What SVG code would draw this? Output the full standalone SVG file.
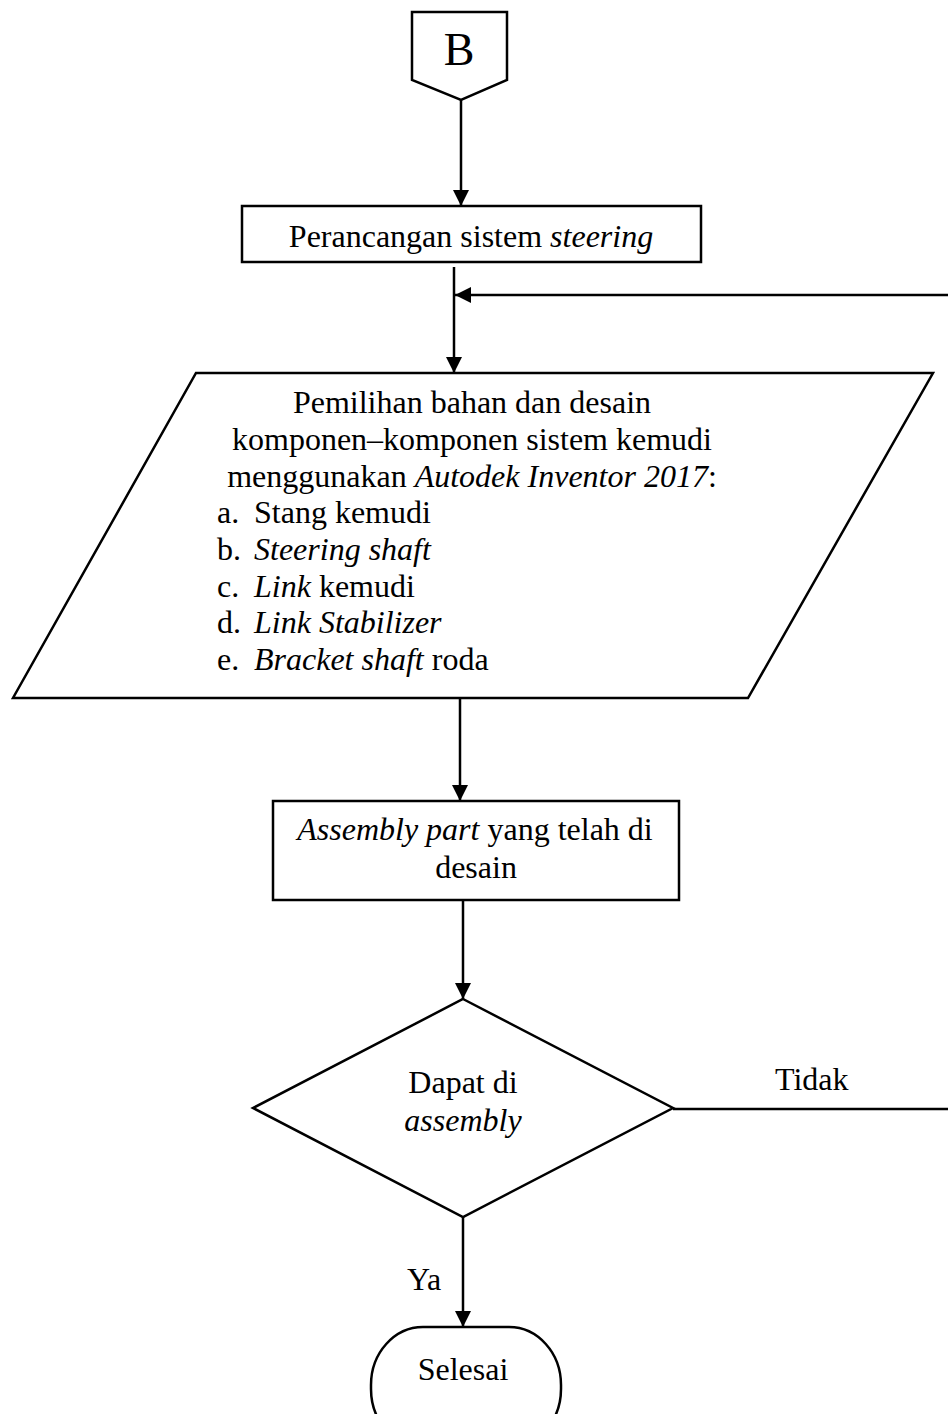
<svg xmlns="http://www.w3.org/2000/svg" width="948" height="1414" viewBox="0 0 948 1414">
  <style>
    .shape { fill: #ffffff; stroke: #000000; stroke-width: 2.5; }
    .conn { fill: none; stroke: #000000; stroke-width: 2.5; }
    .txt { font-family: "Liberation Serif", "Times New Roman", serif; font-size: 32px; fill: #000000; }
    .it { font-style: italic; }
  </style>
  <defs>
    <marker id="arrow" viewBox="0 0 16 16" refX="16" refY="8" markerWidth="16" markerHeight="16" markerUnits="userSpaceOnUse" orient="auto">
      <path d="M0,0 L16,8 L0,16 Z" fill="#000000"/>
    </marker>
  </defs>

  <rect width="948" height="1414" fill="#ffffff"/>

  <!-- connectors -->
  <g id="connectors">
    <line class="conn" x1="461" y1="100" x2="461" y2="206" marker-end="url(#arrow)"/>
    <line class="conn" x1="454" y1="267" x2="454" y2="373" marker-end="url(#arrow)"/>
    <path class="conn" d="M673,1109 H951 V295 H455" marker-end="url(#arrow)"/>
    <line class="conn" x1="460" y1="698" x2="460" y2="801" marker-end="url(#arrow)"/>
    <line class="conn" x1="463" y1="900" x2="463" y2="999" marker-end="url(#arrow)"/>
    <line class="conn" x1="463" y1="1217" x2="463" y2="1327" marker-end="url(#arrow)"/>
    <text class="txt" x="775" y="1090">Tidak</text>
    <text class="txt" x="407" y="1290">Ya</text>
  </g>

  <!-- off-page connector B -->
  <g id="node-b">
    <polygon class="shape" points="412,12 507,12 507,80 461,100 412,80"/>
    <text class="txt" x="459" y="65" text-anchor="middle" style="font-size:46px">B</text>
  </g>

  <!-- process: steering design -->
  <g id="node-perancangan">
    <rect class="shape" x="242" y="206" width="459" height="56"/>
    <text class="txt" x="471" y="247" text-anchor="middle">Perancangan sistem <tspan class="it">steering</tspan></text>
  </g>

  <!-- input/output: material & component design -->
  <g id="node-pemilihan">
    <polygon class="shape" points="196,373 933,373 748,698 13,698"/>
    <text class="txt" x="472" y="413" text-anchor="middle">Pemilihan bahan dan desain</text>
    <text class="txt" x="472" y="450" text-anchor="middle">komponen–komponen sistem kemudi</text>
    <text class="txt" x="472" y="487" text-anchor="middle">menggunakan <tspan class="it">Autodek Inventor 2017</tspan>:</text>
    <text class="txt" x="217" y="523">a.</text>
    <text class="txt" x="254" y="523">Stang kemudi</text>
    <text class="txt" x="217" y="560">b.</text>
    <text class="txt it" x="254" y="560">Steering shaft</text>
    <text class="txt" x="217" y="597">c.</text>
    <text class="txt" x="254" y="597"><tspan class="it">Link</tspan> kemudi</text>
    <text class="txt" x="217" y="633">d.</text>
    <text class="txt it" x="254" y="633">Link Stabilizer</text>
    <text class="txt" x="217" y="670">e.</text>
    <text class="txt" x="254" y="670"><tspan class="it">Bracket shaft</tspan> roda</text>
  </g>

  <!-- process: assembly -->
  <g id="node-assembly">
    <rect class="shape" x="273" y="801" width="406" height="99"/>
    <text class="txt" x="475" y="840" text-anchor="middle"><tspan class="it">Assembly part</tspan> yang telah di</text>
    <text class="txt" x="476" y="878" text-anchor="middle">desain</text>
  </g>

  <!-- decision -->
  <g id="node-decision">
    <polygon class="shape" points="463,999 673,1108 463,1217 253,1108"/>
    <text class="txt" x="463" y="1093" text-anchor="middle">Dapat di</text>
    <text class="txt it" x="463" y="1131" text-anchor="middle">assembly</text>
  </g>

  <!-- terminator -->
  <g id="node-selesai">
    <rect class="shape" x="371" y="1327" width="190" height="120" rx="52" ry="58"/>
    <text class="txt" x="463" y="1380" text-anchor="middle">Selesai</text>
  </g>
</svg>
